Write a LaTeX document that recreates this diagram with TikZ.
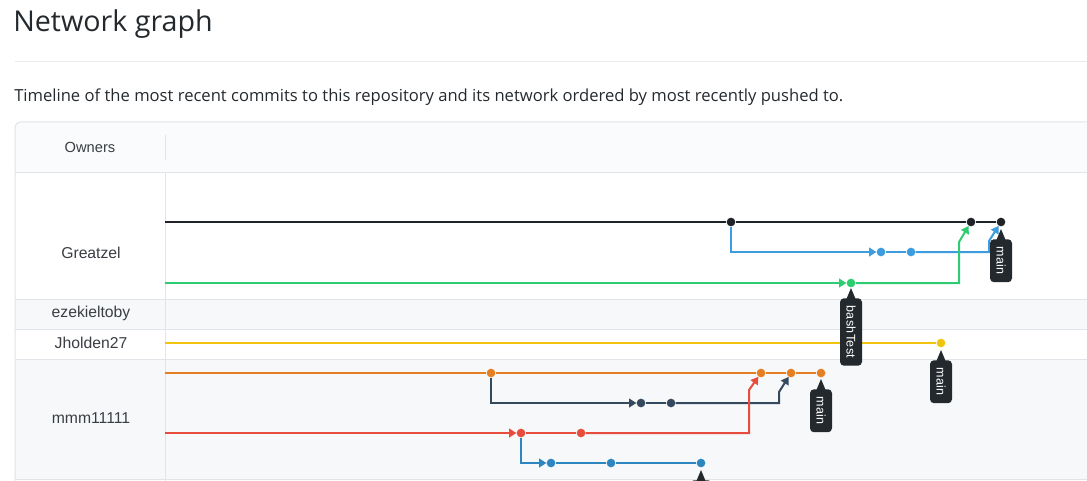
\documentclass[tikz,border=0pt]{standalone}
\usepackage{fontspec}
\setmainfont{Open Sans}
\newfontfamily\duenofont{Liberation Sans}
\newfontfamily\ramafont[LetterSpace=3]{Liberation Sans}
\usetikzlibrary{arrows.meta}
\definecolor{oscuro}{HTML}{24292E}
\definecolor{borde}{HTML}{E1E4E8}
\definecolor{fondogris}{HTML}{F6F8FA}
\definecolor{fondocab}{HTML}{FAFBFC}
\definecolor{cNegro}{HTML}{1F2328}
\definecolor{cAzulClaro}{HTML}{3D9BE0}
\definecolor{cVerde}{HTML}{2ECC71}
\definecolor{cAmarillo}{HTML}{F1C40F}
\definecolor{cNaranja}{HTML}{E67E22}
\definecolor{cPizarra}{HTML}{34495E}
\definecolor{cRojo}{HTML}{E74C3C}
\definecolor{cAzulOscuro}{HTML}{2E86C1}
\begin{document}
\begin{tikzpicture}[x=0.75pt, y=-0.75pt,
        punto/.style={circle, inner sep=0pt, minimum size=6.5pt},
        rama/.style={line width=1.5pt},
        flecha/.style={line width=1.5pt, -{Triangle[length=5.5pt, width=6.5pt]}},
        dueno/.style={font=\duenofont\fontsize{11.8}{13}\selectfont, text=oscuro!90},
        etiqueta/.style={fill=oscuro, text=white, rounded corners=3pt, rotate=-90,
        anchor=west, inner xsep=5.5pt, inner ysep=0pt, minimum height=16.5pt,
        font=\ramafont\fontsize{9.4}{10}\selectfont}
    ]
        \useasboundingbox (0,0) rectangle (1087,481);
        \clip (0,0) rectangle (1087,481);
        % cabecera
        \node[anchor=base west, inner sep=0pt, font=\fontsize{21.5}{26}\selectfont, text=oscuro] (titulo)
        at (13,32) {Network graph};
        \draw[borde!80, line width=0.75pt] (15,62) -- (1100,62);
        \node[anchor=base west, inner sep=0pt, font=\fontsize{12.45}{15}\selectfont, text=oscuro] (subtitulo)
        at (14,102) {Timeline of the most recent commits to this repository and its network ordered by most recently pushed to.};
        % tabla
        \begin{scope}
            \clip[rounded corners=4.5pt] (15,122) rectangle (1200,600);
            \fill[white] (15,122) rectangle (1200,600);
            \fill[fondocab] (15,122) rectangle (1200,172);
            \fill[fondogris] (15,299) rectangle (1200,329);
            \fill[fondogris] (15,359) rectangle (1200,479);
        \end{scope}
        \draw[borde, line width=0.75pt, rounded corners=4.5pt] (15,122) rectangle (1200,600);
        \foreach \fila in {172, 299, 329, 359, 479}
            \draw[borde, line width=0.75pt] (15,\fila) -- (1200,\fila);
        \draw[borde, line width=0.75pt] (165,172) -- (165,600);
        \draw[borde, line width=0.75pt] (165,135) -- (165,160);
        \node[dueno, font=\duenofont\fontsize{11}{13}\selectfont] (owners) at (90,147) {Owners};
        \node[dueno] (greatzel) at (91,253) {Greatzel};
        \node[dueno] (ezekiel) at (91,313) {ezekieltoby};
        \node[dueno] (jholden) at (91,343) {Jholden27};
        \node[dueno] (mmm) at (91,418) {mmm11111};
        % commits
        \node[punto, fill=cNegro] (n1) at (731,222) {};
        \node[punto, fill=cNegro] (n2) at (971,222) {};
        \node[punto, fill=cNegro] (n3) at (1001,222) {};
        \node[punto, fill=cAzulClaro] (a1) at (881,252) {};
        \node[punto, fill=cAzulClaro] (a2) at (911,252) {};
        \node[punto, fill=cVerde] (v1) at (851,283) {};
        \node[punto, fill=cAmarillo] (y1) at (941,343) {};
        \node[punto, fill=cNaranja] (o1) at (491,373) {};
        \node[punto, fill=cNaranja] (o2) at (761,373) {};
        \node[punto, fill=cNaranja] (o3) at (791,373) {};
        \node[punto, fill=cNaranja] (o4) at (821,373) {};
        \node[punto, fill=cPizarra] (s1) at (641,403) {};
        \node[punto, fill=cPizarra] (s2) at (671,403) {};
        \node[punto, fill=cRojo] (r1) at (521,433) {};
        \node[punto, fill=cRojo] (r2) at (581,433) {};
        \node[punto, fill=cAzulOscuro] (c1) at (551,463) {};
        \node[punto, fill=cAzulOscuro] (c2) at (611,463) {};
        \node[punto, fill=cAzulOscuro] (c3) at (701,463) {};
        \coordinate (iniNegro) at (165,222);
        \coordinate (iniVerde) at (165,283);
        \coordinate (iniAmarillo) at (165,343);
        \coordinate (iniNaranja) at (165,373);
        \coordinate (iniRojo) at (165,433);
        % ramas
        \draw[rama, cNegro] (iniNegro) -- (n1) -- (n2) -- (n3);
        \draw[flecha, cAzulClaro] (n1) |- (a1);
        \draw[rama, cAzulClaro] (a1) -- (a2);
        \draw[flecha, cAzulClaro] (a2) -- ++(78,0) -- ++(0,-11) -- (n3);
        \draw[flecha, cVerde] (iniVerde) -- (v1);
        \draw[flecha, cVerde] (v1) -- ++(108,0) -- ++(0,-41) -- (n2);
        \draw[rama, cAmarillo] (iniAmarillo) -- (y1);
        \draw[rama, cNaranja] (iniNaranja) -- (o1) -- (o2) -- (o3) -- (o4);
        \draw[flecha, cPizarra] (o1) |- (s1);
        \draw[rama, cPizarra] (s1) -- (s2);
        \draw[flecha, cPizarra] (s2) -- ++(108,0) -- ++(0,-11) -- (o3);
        \draw[flecha, cRojo] (iniRojo) -- (r1);
        \draw[rama, cRojo] (r1) -- (r2);
        \draw[flecha, cRojo] (r2) -- ++(168,0) -- ++(0,-43) -- (o2);
        \draw[flecha, cAzulOscuro] (r1) |- (c1);
        \draw[rama, cAzulOscuro] (c1) -- (c2) -- (c3);
        % etiquetas de rama
        \node[etiqueta] (tagPrincipal) at (1001,239) {main};
        \node[etiqueta] (tagBash) at (851,298) {bashTest};
        \node[etiqueta] (tagAmarillo) at (941,360) {main};
        \node[etiqueta] (tagNaranja) at (821,389) {main};
        \node[etiqueta] (tagAzul) at (701,480) {};
        \foreach \t in {tagPrincipal, tagBash, tagAmarillo, tagNaranja, tagAzul}
            \fill[oscuro] ([shift={(-5,2)}]\t.west) -- ([shift={(0,-10)}]\t.west)
            -- ([shift={(5,2)}]\t.west) -- cycle;
    \end{tikzpicture}
\end{document}
